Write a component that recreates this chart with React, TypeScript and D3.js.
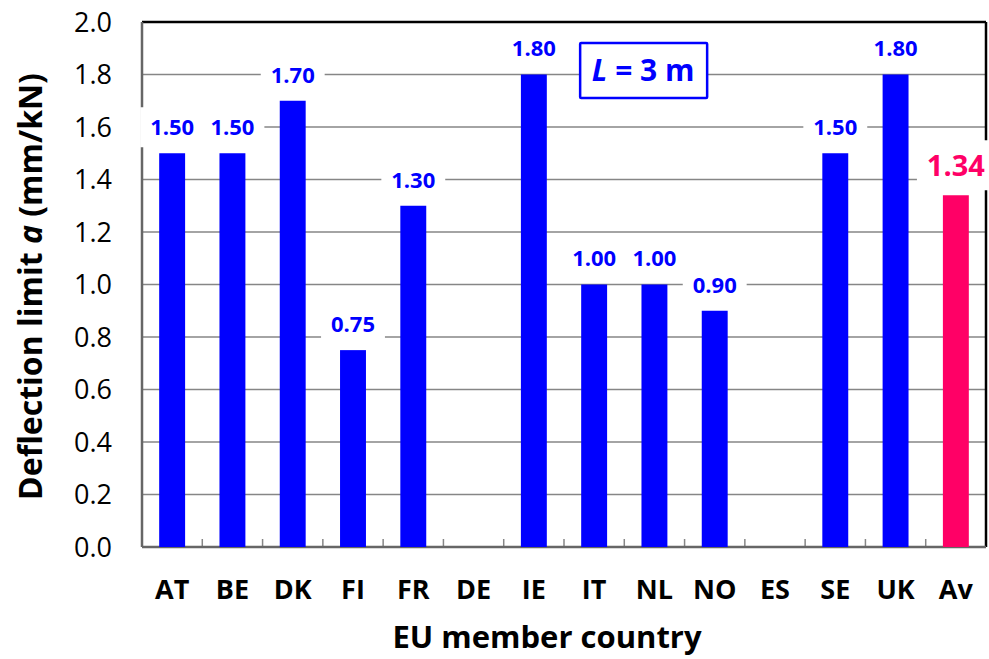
import React from "react";
import { scaleBand, scaleLinear, range } from "d3";

// values (DE and ES have no value)
const countries = ["AT", "BE", "DK", "FI", "FR", "DE", "IE", "IT", "NL", "NO", "ES", "SE", "UK", "Av"];
const deflection: (number | null)[] = [1.5, 1.5, 1.7, 0.75, 1.3, null, 1.8, 1.0, 1.0, 0.9, null, 1.5, 1.8, 1.34];
const yTicks = range(0, 11).map(i => i * 0.2);

const WIDTH = 989;
const HEIGHT = 659;
const M = { top: 22, right: 3, bottom: 112, left: 142 };
const FONT = "'Open Sans', 'Liberation Sans', sans-serif";
const BLUE = "#0000ff";
const PINK = "#ff0066";

const approxWidth = (s: string, size: number) =>
  s.split("").reduce((acc, c) => acc + (c === "." ? 0.27 : 0.575), 0) * size;

export default function App() {
  const innerW = WIDTH - M.left - M.right;
  const innerH = HEIGHT - M.top - M.bottom;

  const x = scaleBand<string>().domain(countries).range([0, innerW]).paddingInner(0.57).paddingOuter(0.285);
  const y = scaleLinear().domain([0, 2]).range([innerH, 0]);
  const step = innerW / countries.length;

  return (
    <svg width={WIDTH} height={HEIGHT} style={{ position: "absolute", left: 0, top: 0 }} fontFamily={FONT}>
      <g transform={`translate(${M.left},${M.top})`}>
        {/* gridlines */}
        {yTicks.slice(1, -1).map(v => (
          <line key={v} x1={0} x2={innerW} y1={y(v)} y2={y(v)} stroke="#868686" strokeWidth={1.6} />
        ))}

        {/* category ticks */}
        {range(1, countries.length).map(i => (
          <line key={i} x1={i * step} x2={i * step} y1={innerH} y2={innerH - 8} stroke="#868686" strokeWidth={1.5} />
        ))}

        {/* frame */}
        <line x1={0} x2={innerW} y1={0} y2={0} stroke="#000" strokeWidth={2.5} />
        <line x1={innerW} x2={innerW} y1={0} y2={innerH} stroke="#000" strokeWidth={2.5} />
        <line x1={0} x2={0} y1={0} y2={innerH} stroke="#666" strokeWidth={2.5} />
        <line x1={0} x2={innerW} y1={innerH} y2={innerH} stroke="#666" strokeWidth={2.5} />

        {/* bars */}
        {countries.map((c, i) => {
          const v = deflection[i];
          if (v == null) return null;
          return (
            <rect
              key={c}
              x={x(c)}
              y={y(v)}
              width={x.bandwidth()}
              height={innerH - y(v)}
              fill={c === "Av" ? PINK : BLUE}
            />
          );
        })}

        {/* value labels with white boxes */}
        {countries.map((c, i) => {
          const v = deflection[i];
          if (v == null) return null;
          const isAv = c === "Av";
          const size = isAv ? 29 : 22;
          const txt = v.toFixed(2);
          const w = approxWidth(txt, size) + 20;
          const h = isAv ? 50 : 40;
          const cx = x(c)! + x.bandwidth() / 2;
          const cy = y(v) - (isAv ? 30 : 26);
          return (
            <g key={c}>
              <rect x={cx - w / 2} y={cy - h / 2} width={w} height={h} fill="#fff" />
              <text
                x={cx}
                y={cy}
                dy="0.36em"
                textAnchor="middle"
                fontWeight="bold"
                fontSize={size}
                fill={isAv ? PINK : BLUE}
              >
                {txt}
              </text>
            </g>
          );
        })}

        {/* L = 3 m box */}
        <g transform={`translate(${x("IT")! + x.bandwidth() / 2 + 49},${48})`}>
          <rect x={-63} y={-27} width={127} height={55} fill="#fff" stroke={BLUE} strokeWidth={2.5} rx={1} />
          <text textAnchor="middle" dy="0.36em" fontWeight="bold" fontSize={30} fill={BLUE}>
            <tspan fontStyle="italic">L</tspan> = 3 m
          </text>
        </g>

        {/* y tick labels */}
        {yTicks.map(v => (
          <text key={v} x={-30} y={y(v)} dy="0.36em" textAnchor="end" fontSize={27} fill="#000">
            {v.toFixed(1)}
          </text>
        ))}

        {/* x tick labels */}
        {countries.map(c => (
          <text
            key={c}
            x={x(c)! + x.bandwidth() / 2}
            y={innerH + 42}
            dy="0.36em"
            textAnchor="middle"
            fontWeight="bold"
            fontSize={27}
            fill="#000"
          >
            {c}
          </text>
        ))}

        {/* axis titles */}
        <text x={innerW / 2 - 17} y={innerH + 90} dy="0.36em" textAnchor="middle" fontWeight="bold" fontSize={31}>
          EU member country
        </text>
        <text
          transform={`translate(${-112},${innerH / 2 + 2}) rotate(-90)`}
          dy="0.36em"
          textAnchor="middle"
          fontWeight="bold"
          fontSize={32}
        >
          Deflection limit <tspan fontStyle="italic">a</tspan> (mm/kN)
        </text>
      </g>
    </svg>
  );
}
